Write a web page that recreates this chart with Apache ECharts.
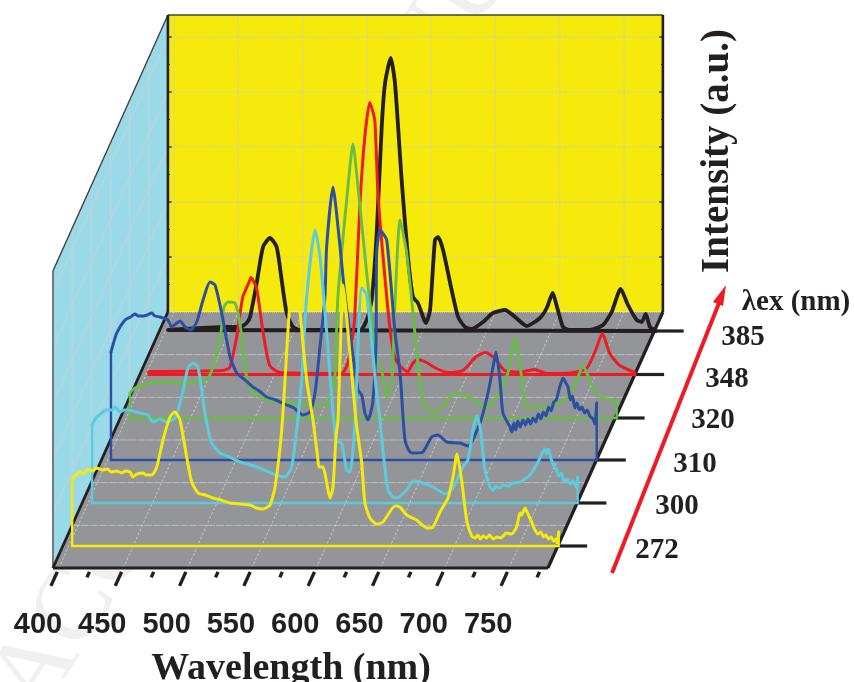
<!DOCTYPE html>
<html><head><meta charset="utf-8">
<style>html,body{margin:0;padding:0;background:#fff}#c{width:854px;height:682px}</style>
<script src="https://cdn.jsdelivr.net/npm/echarts@6/dist/echarts.min.js"></script>
</head><body><div id="c"></div>
<script>
// Emission spectra: [wavelength nm, intensity a.u.]
const trace272 = [[402.6,66],[405,70],[408.6,74],[411,72],[415,77],[418,75],[421.6,78],[426,76],[430,77],[433,74],[437.2,75],[441,73],[444,75],[447.5,74],[449.8,69],[453,72],[457.6,73],[460,71],[464.4,71],[468.3,79],[473.2,106],[478.6,129],[482.5,134],[486.4,126],[491.6,89],[495.5,64],[500.4,53],[506,51],[512,48],[518,46],[525.3,43],[533,42],[540.8,41],[546,38],[550.9,37],[556.4,41],[560.3,59],[565.5,116],[570.4,216],[573.2,266],[576.6,290],[579.7,236],[584.9,166],[589.8,126],[593.7,86],[594.5,79],[597.6,79],[600.5,63],[603,48],[605.4,59],[607.7,109],[609.3,126],[613.2,261],[615.5,236],[623.2,126],[627.7,83],[630.2,43],[634.1,28],[639.3,22],[644.2,24],[653.6,40],[657.5,39],[662.7,31],[670.4,26],[678.2,18],[683.1,19],[688.6,34],[694.8,48],[698.7,69],[701.8,92],[705.4,66],[709.3,26],[713.2,10],[716,8],[718,11],[720,7],[722,10],[725,8],[727,11],[730,7],[733,9],[736,8],[740,13],[744,12],[748.2,19],[750.8,33],[752,31],[754.7,38],[757,32],[759.9,24],[762,17],[764.8,12],[767,14],[769,9],[771,11],[773,7],[775,9],[777,5],[779,7],[779.6,3],[780.9,14]];
const trace300 = [[403,78],[406,85],[410.5,90],[414,93],[418.3,93],[421,96],[424.7,91],[428,93],[434.8,92],[440,90],[446.5,88],[450.2,81],[455.8,84],[460.5,81],[467.5,85],[472.7,106],[477.6,135],[481.5,140],[485.4,136],[490.8,90],[496,60],[502.5,50],[510,46],[518,41],[526,38],[533.6,35],[543.7,29],[553,26],[558.2,36],[562.1,73],[566,123],[569.9,206],[576.4,273],[580.3,246],[585.5,170],[590.4,90],[593.2,62],[597.1,60],[601,33],[603.6,31],[605.7,50],[607.5,83],[612.7,215],[616.6,208],[624.3,110],[626.9,83],[630.8,33],[633.1,13],[637,6],[639.9,5],[647.7,13],[652.6,22],[658,21],[668.1,16],[677.5,9],[683.7,15],[691.4,36],[695.3,43],[699.2,73],[702.1,87],[704.7,76],[708.6,33],[712.4,16],[715,13],[717,17],[720,15],[723,18],[727,17],[730,20],[735.8,21],[743.6,28],[749.8,41],[753,50],[755.2,54],[756.5,49],[758,54],[760,44],[762,38],[764,34],[766,27],[768,30],[770,21],[772,24],[775,19],[777,22],[779.9,15],[780.6,26]];
const trace310 = [[402.7,108],[407.2,127],[413.6,140],[418,143],[421.4,146],[424,144],[427.6,144],[431,145],[434.4,147],[437,144],[440.8,143],[447,140],[449.9,133],[453,136],[456.4,139],[460.3,133],[464.7,130],[469.4,138],[474.3,160],[479.7,178],[483.6,175],[488.8,147],[495.3,103],[500.5,87],[506,81],[513.1,73],[518,69],[523.8,63],[531,60],[539.3,55],[545,52],[552,45],[557.5,48],[561.4,67],[565.2,113],[569.1,163],[570.4,213],[575.3,273],[580.3,220],[584.2,170],[594.8,70],[597.7,65],[600.2,47],[602.6,40],[606.2,57],[608.8,117],[609.3,207],[611.9,230],[617.1,220],[623.6,127],[627.5,87],[631.3,20],[635.2,8],[640,7],[645.3,8],[652.1,23],[657,25],[663.8,18],[674.1,17],[680.3,14],[689.7,37],[695.9,67],[699.8,93],[702.1,108],[705.2,80],[707.5,47],[713,33],[714.5,28],[716,37],[717.5,30],[719,39],[721,33],[723,40],[725,35],[727,41],[729,36],[731,42],[733,38],[735,46],[737,41],[739,48],[741,44],[743,53],[745,49],[747,58],[749,60],[751,70],[754.2,82],[756,78],[758.1,73],[760,60],[761.5,64],[763.5,52],[765,57],[767,50],[769,53],[771,47],[773,50],[775,44],[777.5,41],[779,36],[780.4,57]];
const trace320 = [[402.8,25],[406.7,30],[418.4,35],[431.3,36],[446.9,35],[462.4,38],[467.3,51],[472.8,78],[475.9,111],[479,116],[484.4,115],[488.3,95],[493.5,41],[498.4,25],[514,17],[529.5,15],[542.8,13],[552.9,12],[558.5,21],[562,38],[564.5,121],[572.3,231],[576.2,274],[580.1,231],[586.9,145],[590.7,101],[594.6,58],[598.5,48],[602.6,21],[606.3,35],[608.9,115],[612.8,198],[618,165],[624.4,85],[628.3,35],[632.2,11],[640,5],[645.2,10],[655.5,25],[669.5,19],[680.2,10],[688,21],[696.7,45],[702.2,80],[707.4,41],[711.3,11],[726.8,11],[742.4,20],[750.2,38],[755,52],[762.8,31],[769.6,21],[781.3,17]];
const trace348 = [[402.3,3],[459.8,4],[465.2,7],[470.5,37],[475.3,77],[480.8,94],[481.6,97],[486,87],[490.9,44],[496.3,9],[504.1,2],[552.1,1],[557,11],[559.9,31],[562.4,57],[566.3,167],[570.2,237],[574.1,272],[578,254],[580.3,184],[584.2,121],[589.7,47],[593.5,17],[598.8,7],[603.7,3],[607.5,11],[611.4,15],[618.2,12],[626,6],[634.8,2],[646.4,4],[657,18],[664.1,22],[671.3,16],[679,4],[690.8,2.5],[702.4,5],[711.5,1],[729.6,1.5],[742.6,6],[749,22],[755,41],[760.7,21],[768.5,9],[780.2,2]];
const trace385 = [[402,1],[448.7,4],[458,4],[463.2,8],[465.8,14],[471,48],[475.9,84],[481.3,93],[486.5,84],[490.4,51],[494.3,18],[499.2,4],[504.7,1],[551.3,1],[556.5,11],[560.4,31],[564.3,98],[568.2,204],[570.8,248],[575.2,273],[578.5,248],[583.7,151],[588.6,74],[592.5,34],[596.4,28],[602.6,8],[605.8,21],[609.6,91],[612,94],[615.9,81],[621.4,48],[627.6,14],[633,4],[638.2,2],[647,9],[654.7,18],[664.1,21],[671.9,14],[681,5],[691.3,13],[696.5,23],[701.2,38],[704.5,24],[709.2,4],[714.6,1],[730.2,1],[740.3,6],[747,19],[754,42],[759.7,26],[766.5,11],[770.4,9],[773.5,17],[776.8,4],[780.7,1]];

const excitations = ['272','300','310','320','348','385'];
const spectra = [trace272, trace300, trace310, trace320, trace348, trace385];
const traceColors = ['#f6ea0b','#5ccbdc','#2c4fa3','#69bd45','#ed1c24','#231f20'];
const lineWidths = [3,3,3,2.9,3,3.8];
const frameWidths = [2.4,2.4,2.4,2.4,2.8,3.8];
const wavelengthTicks = [400,450,500,550,600,650,700,750];
const minorTicks = [425,475,525,575,625,675,725,775];
const wallLevels = [55,110,165,220,275];
const wallMinor = [27.5,82.5,137.5,192.5,247.5];
const depthLevels = [1,2,3,4,5];

// layout
const PX_NM = 1.286, SHEAR = 0.449, FRONT_Y = 568, BACK_Y = 312, X400 = 59, WALL_H = 297;
const WL_L = 395.3, WL_R = 780.2, DEPTHS = 6;
const baselines = [546, 503, 460, 418, 374.5, 331];
const depthLabelX = [657,677,695,713,727,743];
const depthLabelY = [551,507,465,421,380,338];

const grids = [{left:X400, width:400*PX_NM, top:BACK_Y, height:FRONT_Y-BACK_Y}];
const xAxes = [{gridIndex:0,type:'value',min:400,max:800,interval:50,
  axisLine:{show:false},axisTick:{show:false},splitLine:{show:false},
  axisLabel:{showMaxLabel:false,margin:42,padding:[0,42,0,0],color:'#231f20',fontFamily:'Liberation Sans',fontWeight:'bold',fontSize:29}}];
const yAxes = [{gridIndex:0,type:'value',min:0,max:DEPTHS,show:false}];

function makeProj(api){
  const o = api.coord([400,0]);
  return (wl,d,h)=>{ const p = api.coord([wl,d]); return [p[0]+(o[1]-p[1])*SHEAR, p[1]-(h||0)]; };
}
function seg(a,b,c,w,dash){ return {type:'line',shape:{x1:a[0],y1:a[1],x2:b[0],y2:b[1]},style:{stroke:c,lineWidth:w,lineDash:dash||null,lineCap:'butt',fill:null}}; }
function poly(pts,fill){ return {type:'polygon',shape:{points:pts},style:{fill:fill}}; }

function renderStage(params,api){
  const P = makeProj(api), kids = [];
  const D = DEPTHS;
  kids.push(poly([P(WL_L,D,0),P(WL_R,D,0),P(WL_R,D,WALL_H),P(WL_L,D,WALL_H)],'#f5ea0c'));
  kids.push(poly([P(WL_L,0,0),P(WL_L,0,WALL_H),P(WL_L,D,WALL_H),P(WL_L,D,0)],'#9ad9e8'));
  kids.push(poly([P(WL_L,0,0),P(WL_R,0,0),P(WL_R,D,0),P(WL_L,D,0)],'#939598'));
  const gc='#cfcfb8', bc='#c4d3d8', dash=[3,1.5];
  wavelengthTicks.forEach(w=>kids.push(seg(P(w,D,0),P(w,D,WALL_H),gc,1,dash)));
  wallLevels.forEach(h=>{
    kids.push(seg(P(WL_L,D,h),P(WL_R,D,h),gc,1,dash));
    kids.push(seg(P(WL_L,0,h),P(WL_L,D,h),bc,1));
    kids.push(seg(P(WL_L,D,h),P(WL_L+3,D,h),'#231f20',1.2));
    kids.push(seg(P(WL_R,D,h),P(WL_R-3,D,h),'#231f20',1.2));
  });
  wallMinor.forEach(h=>{
    kids.push(seg(P(WL_L,D,h),P(WL_L+1.5,D,h),'#231f20',1));
    kids.push(seg(P(WL_R,D,h),P(WL_R-1.5,D,h),'#231f20',1));
  });
  depthLevels.forEach(d=>{
    kids.push(seg(P(WL_L,d,0),P(WL_L,d,WALL_H),bc,1));
    kids.push(seg(P(WL_L,d,0),P(WL_R,d,0),'#bdbec0',1,[8,1]));
  });
  wavelengthTicks.forEach(w=>kids.push(seg(P(w,0,0),P(w,D,0),'#d4d4d4',0.8,[2.5,2])));
  kids.push(seg(P(WL_L,D,0),P(WL_R,D,0),'#ffffff',0.8,[1,1]));
  const ink='#231f20';
  kids.push(seg(P(WL_L,0,0),P(WL_L,0,WALL_H),'#6d6e71',1.8));
  kids.push(seg(P(WL_L,0,WALL_H),P(WL_L,D,WALL_H),'#414042',1.4));
  kids.push(seg(P(WL_L,D,WALL_H),P(WL_R,D,WALL_H),'#414042',1.6));
  kids.push(seg(P(WL_L,D,0),P(WL_L,D,WALL_H),ink,2.6));
  kids.push(seg(P(WL_R,D,0),P(WL_R,D,WALL_H),ink,2.6));
  kids.push(seg(P(WL_L,0,0),P(WL_L,D,0),ink,2.8));
  kids.push(seg(P(WL_R,0,0),P(WL_R,D,0),ink,3.2));
  kids.push(seg(P(WL_L,0,0),P(WL_R,0,0),ink,3.2));
  wavelengthTicks.forEach(w=>kids.push(seg(P(w,-0.09,0),P(w,-0.42,0),ink,3.4)));
  minorTicks.forEach(w=>kids.push(seg(P(w,-0.09,0),P(w,-0.22,0),ink,3.4)));
  return {type:'group',children:kids};
}

const series = [{type:'custom',xAxisIndex:0,yAxisIndex:0,z:1,silent:true,clip:false,renderItem:renderStage,data:[[400,0]]}];

[5,4,3,2,1,0].forEach((k,i)=>{
  const yb = baselines[k], g = i+1;
  grids.push({left:X400+(FRONT_Y-yb)*SHEAR, width:410*PX_NM, top:yb-WALL_H, height:WALL_H});
  xAxes.push({gridIndex:g,type:'value',min:400,max:810,show:false});
  yAxes.push({gridIndex:g,type:'value',min:0,max:WALL_H,show:false});
  const pts = spectra[k], a = pts[0], b = pts[pts.length-1];
  series.push({type:'line',xAxisIndex:g,yAxisIndex:g,z:2+i,silent:true,symbol:'none',clip:false,
    data:[[803,0],[781,0]],lineStyle:{color:'#231f20',width:3.2}});
  series.push({name:excitations[k]+' frame',type:'line',xAxisIndex:g,yAxisIndex:g,z:2+i,silent:true,symbol:'none',clip:false,
    data:[a,[a[0],0],[b[0],0],b],lineStyle:{color:traceColors[k],width:frameWidths[k],join:'miter'}});
  series.push({name:excitations[k],type:'line',xAxisIndex:g,yAxisIndex:g,z:2+i,silent:true,symbol:'none',clip:false,
    smooth:0.2,data:pts,lineStyle:{color:traceColors[k],width:lineWidths[k],join:'round',cap:'round'}});
});

const graphic = [
  {type:'text',z:0,rotation:Math.PI*0.32,x:-28,y:675,silent:true,style:{text:'ACCEPTED MANUSCRIPT',font:'105px "Liberation Serif"',fill:'#f0f0f0'}},
  {type:'text',x:291,y:669,z:50,style:{text:'Wavelength (nm)',font:'bold 38px "Liberation Serif"',fill:'#231f20',textAlign:'center',textVerticalAlign:'middle'}},
  {type:'text',x:718,y:151,rotation:Math.PI/2,z:50,style:{text:'Intensity (a.u.)',font:'bold 39px "Liberation Serif"',fill:'#231f20',textAlign:'center',textVerticalAlign:'middle'}},
  {type:'text',x:796,y:303,z:50,style:{text:'λex (nm)',font:'bold 29px "Liberation Serif"',fill:'#231f20',textAlign:'center',textVerticalAlign:'middle'}},
  {type:'line',z:50,shape:{x1:612,y1:573,x2:719,y2:303},style:{stroke:'#ed1c24',lineWidth:4}},
  {type:'polygon',z:50,shape:{points:[[726,285],[713,302],[723,306]]},style:{fill:'#ed1c24'}}
].concat(excitations.map((t,i)=>({type:'text',x:depthLabelX[i],y:depthLabelY[i],z:50,
  style:{text:t,font:'bold 29px "Liberation Serif"',fill:'#231f20',textAlign:'center',textVerticalAlign:'middle'}})));

const chart = echarts.init(document.getElementById('c'),null,{width:854,height:682});
chart.setOption({animation:false,backgroundColor:'#ffffff',grid:grids,xAxis:xAxes,yAxis:yAxes,series:series,graphic:graphic});
</script></body></html>
